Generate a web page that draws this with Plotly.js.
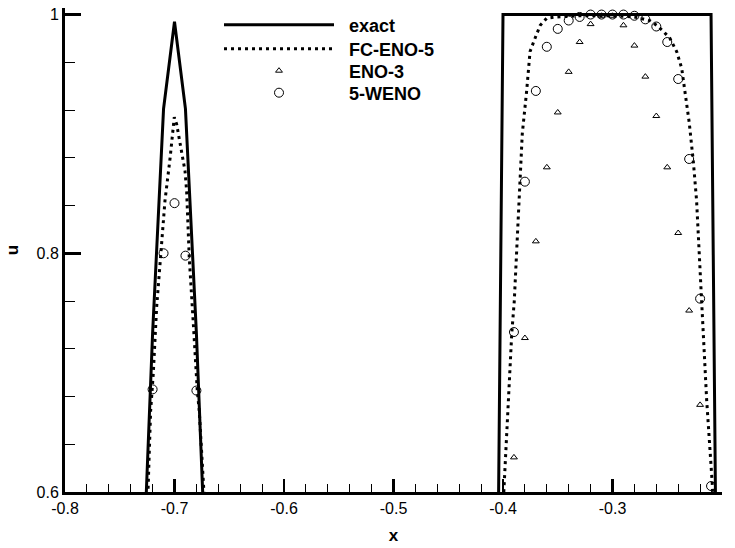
<!DOCTYPE html>
<html>
<head>
<meta charset="utf-8">
<script src="https://cdn.plot.ly/plotly-3.0.1.min.js"></script>
<style>html,body{margin:0;padding:0;background:#fff;}#chart{width:735px;height:548px;}</style>
</head>
<body>
<div id="chart"></div>
<script>
// ---- data ----
const seriesNames = ["exact", "FC-ENO-5", "ENO-3", "5-WENO"];

const exactX = [-0.73, -0.72, -0.71, -0.70, -0.69, -0.68, -0.67, -0.41, -0.40, -0.21, -0.20];
const exactY = [0.501, 0.733, 0.921, 0.994, 0.921, 0.733, 0.501, 0.0, 1.0, 1.0, 0.0];

const fcX = [-0.727, -0.7242, -0.7218, -0.7194, -0.7163, -0.7126, -0.7087, -0.704, -0.7002, -0.698, -0.6934, -0.6904, -0.6889, -0.6865, -0.6828, -0.6792, -0.6774, -0.673, -0.670,
  -0.402, -0.399, -0.395, -0.392, -0.3897, -0.385, -0.3824, -0.3784, -0.3769, -0.3753, -0.3708, -0.366, -0.360, -0.351, -0.33, -0.30, -0.28, -0.2662, -0.2597, -0.2536, -0.2475, -0.2414, -0.2368, -0.2330, -0.2300, -0.2262, -0.2232, -0.2186, -0.214, -0.2089, -0.207];
const fcY = [0.55, 0.60, 0.668, 0.699, 0.755, 0.802, 0.844, 0.880, 0.914, 0.908, 0.886, 0.869, 0.852, 0.796, 0.741, 0.685, 0.668, 0.60, 0.55,
  0.55, 0.607, 0.677, 0.733, 0.760, 0.844, 0.900, 0.936, 0.955, 0.969, 0.980, 0.991, 0.997, 0.998, 0.999, 0.999, 0.998, 0.995, 0.991, 0.986, 0.980, 0.969, 0.955, 0.930, 0.910, 0.877, 0.844, 0.760, 0.677, 0.607, 0.55];

const enoX = [-0.39, -0.38, -0.37, -0.36, -0.35, -0.34, -0.33, -0.32, -0.31, -0.30, -0.29, -0.28, -0.27, -0.26, -0.25, -0.24, -0.23, -0.22];
const enoY = [0.629, 0.729, 0.810, 0.872, 0.918, 0.952, 0.977, 0.992, 0.999, 0.999, 0.991, 0.974, 0.948, 0.915, 0.872, 0.817, 0.752, 0.673];

const wenoX = [-0.72, -0.71, -0.70, -0.69, -0.68,
  -0.39, -0.38, -0.37, -0.36, -0.35, -0.34, -0.33, -0.32, -0.31, -0.30, -0.29, -0.28, -0.27, -0.26, -0.25, -0.24, -0.23, -0.22, -0.21];
const wenoY = [0.686, 0.800, 0.842, 0.798, 0.685,
  0.734, 0.860, 0.936, 0.973, 0.988, 0.995, 0.998, 1.0, 1.0, 1.0, 1.0, 0.999, 0.996, 0.990, 0.977, 0.946, 0.879, 0.762, 0.605];

const xTickVals = [-0.8, -0.7, -0.6, -0.5, -0.4, -0.3, -0.2];
const xTickText = ["-0.8", "-0.7", "-0.6", "-0.5", "-0.4", "-0.3", "-0.2"];
const yTickVals = [0.6, 0.8, 1.0];
const yTickText = ["0.6", "0.8", "1"];

// ---- chart ----
const FONT = "Liberation Sans, Arial, Helvetica, sans-serif";
const GAP = "\u00a0\u00a0";

const traces = [
  {x: exactX, y: exactY, name: GAP + seriesNames[0], type: "scatter", mode: "lines",
   line: {color: "black", width: 3}, legend: "legend"},
  {x: fcX, y: fcY, name: GAP + seriesNames[1], type: "scatter", mode: "lines",
   line: {color: "black", width: 3, dash: "3px,4px"}, legend: "legend2"},
  {x: enoX, y: enoY, name: GAP + seriesNames[2], type: "scatter", mode: "markers",
   marker: {symbol: "triangle-up-open", size: 6, color: "black", line: {width: 1, color: "black"}}, legend: "legend3"},
  {x: wenoX, y: wenoY, name: GAP + seriesNames[3], type: "scatter", mode: "markers",
   marker: {symbol: "circle-open", size: 9, color: "black", line: {width: 1, color: "black"}}, legend: "legend4"}
];

function leg(yv) {
  return {x: (219 - 65) / 657, xanchor: "left", y: yv, yanchor: "middle",
    bgcolor: "rgba(0,0,0,0)", borderwidth: 0, itemwidth: 110,
    font: {family: FONT, size: 18, weight: "bold", color: "black"}};
}
const plotTop = 7, plotH = 485;
function py(pix) { return 1 - (pix - plotTop) / plotH; }

const axisCommon = {
  showline: true, linecolor: "black", linewidth: 3, mirror: false,
  showgrid: false, zeroline: false,
  ticks: "inside", tickcolor: "black",
  tickfont: {family: FONT, size: 16, color: "black"},
  tickmode: "array"
};

const layout = {
  width: 735, height: 548,
  margin: {l: 65, r: 13, t: plotTop, b: 56, pad: 0},
  paper_bgcolor: "white", plot_bgcolor: "white",
  font: {family: FONT, color: "black"},
  showlegend: true,
  xaxis: Object.assign({}, axisCommon, {
    range: [-0.8, -0.2], tickvals: xTickVals, ticktext: xTickText,
    ticklen: 13, tickwidth: 2.5,
    minor: {tickmode: "linear", tick0: -0.8, dtick: 0.02, ticks: "inside", ticklen: 8, tickwidth: 1, tickcolor: "black", showgrid: false},
    title: {text: "x", font: {family: FONT, size: 17, weight: "bold", color: "black"}, standoff: 13}
  }),
  yaxis: Object.assign({}, axisCommon, {
    range: [0.6, 1.0055], tickvals: yTickVals, ticktext: yTickText,
    ticklen: 16, tickwidth: 2.5,
    minor: {tickmode: "linear", tick0: 0.6, dtick: 0.04, ticks: "inside", ticklen: 10, tickwidth: 1, tickcolor: "black", showgrid: false},
    title: {text: "u", font: {family: FONT, size: 17, weight: "bold", color: "black"}, standoff: 14}
  }),
  legend: leg(py(25)),
  legend2: leg(py(49)),
  legend3: leg(py(71)),
  legend4: leg(py(93))
};

Plotly.newPlot("chart", traces, layout, {displayModeBar: false, staticPlot: true});
</script>
</body>
</html>
